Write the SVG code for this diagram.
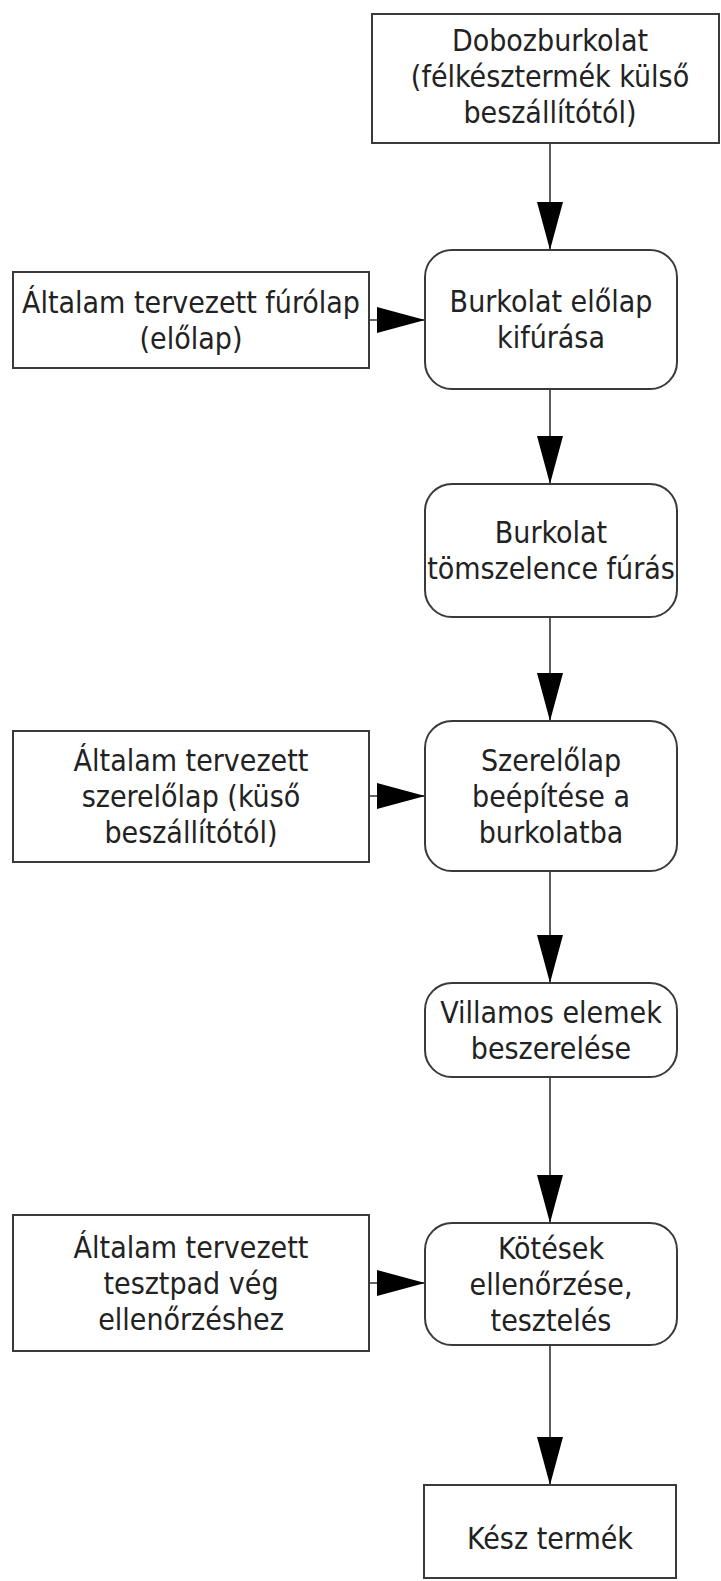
<svg xmlns="http://www.w3.org/2000/svg" width="721" height="1581" viewBox="0 0 721 1581">
<style>
.box{fill:#fff;stroke:#3a3a3a;stroke-width:2}
.t{font-family:"DejaVu Sans Condensed","DejaVu Sans","Liberation Sans",sans-serif;font-stretch:condensed;font-size:30px;fill:#222;text-anchor:middle}
.c{stroke:#333;stroke-width:1.6;fill:none;marker-end:url(#ah)}
</style>
<defs>
<marker id="ah" markerUnits="userSpaceOnUse" markerWidth="48" markerHeight="26" refX="48" refY="13" orient="auto" viewBox="0 0 48 26">
<path d="M0,0 L48,13 L0,26 Z" fill="#000"/>
</marker>
</defs>
<rect width="721" height="1581" fill="#fff"/>
<g id="connectors">
<line class="c" x1="550" y1="143" x2="550" y2="250"/>
<line class="c" x1="550" y1="389" x2="550" y2="484"/>
<line class="c" x1="550" y1="617" x2="550" y2="721"/>
<line class="c" x1="550" y1="871" x2="550" y2="983"/>
<line class="c" x1="550" y1="1077" x2="550" y2="1223"/>
<line class="c" x1="550" y1="1345" x2="550" y2="1485"/>
<line class="c" x1="369" y1="320" x2="425" y2="320"/>
<line class="c" x1="369" y1="796" x2="425" y2="796"/>
<line class="c" x1="369" y1="1283" x2="425" y2="1283"/>
</g>
<g id="n1">
<rect class="box" x="372" y="14" width="347" height="129"/>
<text class="t" x="550" y="51">Dobozburkolat</text>
<text class="t" x="550" y="87">(félkésztermék külső</text>
<text class="t" x="550" y="123">beszállítótól)</text>
</g>
<g id="n2">
<rect class="box" x="425" y="250" width="252" height="139" rx="27"/>
<text class="t" x="551" y="312">Burkolat előlap</text>
<text class="t" x="551" y="348">kifúrása</text>
</g>
<g id="s1">
<rect class="box" x="13" y="272" width="356" height="96"/>
<text class="t" x="191" y="313">Általam tervezett fúrólap</text>
<text class="t" x="191" y="349">(előlap)</text>
</g>
<g id="n3">
<rect class="box" x="425" y="484" width="252" height="133" rx="27"/>
<text class="t" x="551" y="543">Burkolat</text>
<text class="t" x="551" y="579">tömszelence fúrás</text>
</g>
<g id="n4">
<rect class="box" x="425" y="721" width="252" height="150" rx="27"/>
<text class="t" x="551" y="771">Szerelőlap</text>
<text class="t" x="551" y="807">beépítése a</text>
<text class="t" x="551" y="843">burkolatba</text>
</g>
<g id="s2">
<rect class="box" x="13" y="731" width="356" height="131"/>
<text class="t" x="191" y="771">Általam tervezett</text>
<text class="t" x="191" y="807">szerelőlap (küső</text>
<text class="t" x="191" y="843">beszállítótól)</text>
</g>
<g id="n5">
<rect class="box" x="425" y="983" width="252" height="94" rx="27"/>
<text class="t" x="551" y="1023">Villamos elemek</text>
<text class="t" x="551" y="1059">beszerelése</text>
</g>
<g id="n6">
<rect class="box" x="425" y="1223" width="252" height="122" rx="27"/>
<text class="t" x="551" y="1259">Kötések</text>
<text class="t" x="551" y="1295">ellenőrzése,</text>
<text class="t" x="551" y="1331">tesztelés</text>
</g>
<g id="s3">
<rect class="box" x="13" y="1215" width="356" height="136"/>
<text class="t" x="191" y="1258">Általam tervezett</text>
<text class="t" x="191" y="1294">tesztpad vég</text>
<text class="t" x="191" y="1330">ellenőrzéshez</text>
</g>
<g id="n7">
<rect class="box" x="424" y="1485" width="252" height="93"/>
<text class="t" x="550" y="1549">Kész termék</text>
</g>
</svg>
